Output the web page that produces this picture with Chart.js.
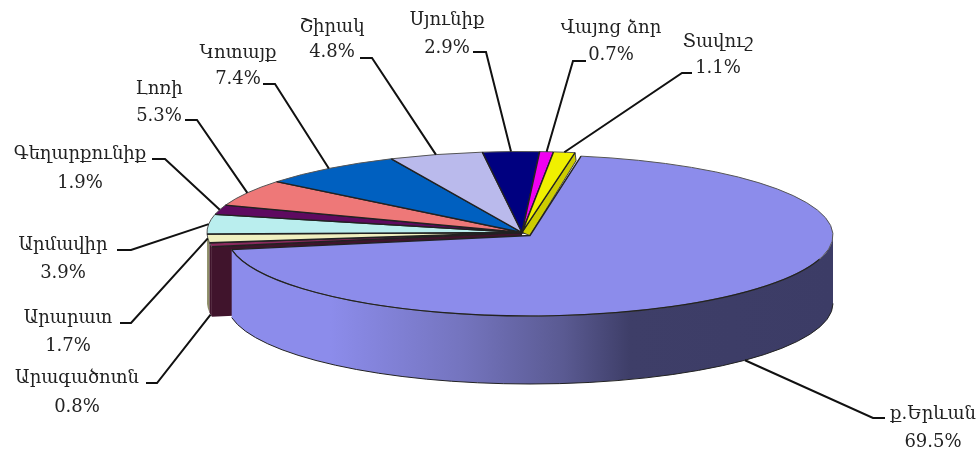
<!DOCTYPE html>
<html>
<head>
<meta charset="utf-8">
<style>
html, body { margin: 0; padding: 0; background: #fff; }
canvas { display: block; filter: blur(0.4px); }
</style>
<script src="https://cdn.jsdelivr.net/npm/chart.js@4"></script>
</head>
<body>
<canvas id="chart" width="979" height="451"></canvas>
<script>
var regions = ['ք.Երևան', 'Արագածոտն', 'Արարատ', 'Արմավիր', 'Գեղարքունիք', 'Լոռի', 'Կոտայք', 'Շիրակ', 'Սյունիք', 'Վայոց ձոր', 'Տավուշ'];
var shares = [69.5, 0.8, 1.7, 3.9, 1.9, 5.3, 7.4, 4.8, 2.9, 0.7, 1.1];
var colors = ['#8C8CEB', '#8A2A5E', '#F0F0C0', '#BAEEEE', '#5E0A60', '#EE7878', '#0060C0', '#BABAEC', '#000080', '#F000F0', '#F0F000'];

// where each label sits: [name x, name y, value y, elbow x, elbow y, line start x]
var labelPos = [
    [933, 414, 442, 873, 418, 885],
    [77, 378, 407, 157, 383, 146],
    [68, 318, 346, 131, 323, 120],
    [63, 245, 273, 131, 250, 117],
    [80, 154, 183, 165, 159, 152],
    [159, 89, 116, 197, 120, 185],
    [238, 53, 79, 275, 84, 263],
    [332, 27, 52, 372, 58, 360],
    [447, 20, 48, 486, 52, 473],
    [611, 28, 55, 573, 61, 586],
    [718, 42, 68, 682, 73, 692]
];

// the big slice and the rest have slightly different ellipses in the original
var bigPie = { x: 530, y: 235.5, rx: 303, ry: 80.5, h: 68 };
var restPie = { x: 522, y: 232.5, rx: 315, ry: 81, h: 70 };

function pieFor(i) {
    return i === 0 ? bigPie : restPie;
}

function pointOn(p, angle) {
    return { x: p.x + p.rx * Math.cos(angle), y: p.y + p.ry * Math.sin(angle) };
}

function drawTop(ctx, arc, i) {
    var p = pieFor(i);
    var r = arc.outerRadius;
    ctx.save();
    ctx.translate(p.x, p.y);
    ctx.scale(p.rx / r, p.ry / r);
    ctx.translate(-arc.x, -arc.y);
    arc.draw(ctx);
    ctx.restore();

    ctx.beginPath();
    ctx.ellipse(p.x, p.y, p.rx, p.ry, 0, arc.startAngle, arc.endAngle);
    ctx.strokeStyle = '#555';
    ctx.lineWidth = 1;
    ctx.stroke();

    var a = pointOn(p, arc.startAngle);
    var b = pointOn(p, arc.endAngle);
    ctx.beginPath();
    ctx.moveTo(a.x, a.y);
    ctx.lineTo(p.x, p.y);
    ctx.lineTo(b.x, b.y);
    ctx.strokeStyle = '#222';
    ctx.lineWidth = 1.4;
    ctx.stroke();
}

function wallPath(ctx, p, a0, a1) {
    ctx.beginPath();
    ctx.ellipse(p.x, p.y + p.h, p.rx, p.ry, 0, a0, a1);
    ctx.ellipse(p.x, p.y, p.rx, p.ry, 0, a1, a0, true);
    ctx.closePath();
}

var pie3d = {
    id: 'pie3d',
    beforeDatasetDraw: function (chart) {
        var ctx = chart.ctx;
        var arcs = chart.getDatasetMeta(0).data;
        var big = arcs[0];

        // left rim and cut face of the slices behind the big one
        var edge = arcs[2];
        wallPath(ctx, restPie, edge.startAngle, edge.endAngle);
        ctx.fillStyle = '#8E8E68';
        ctx.fill();
        wallPath(ctx, restPie, arcs[1].startAngle, arcs[1].endAngle);
        ctx.fillStyle = '#40142C';
        ctx.fill();

        var o = pointOn(restPie, arcs[1].startAngle);
        ctx.beginPath();
        ctx.moveTo(restPie.x, restPie.y);
        ctx.lineTo(o.x, o.y);
        ctx.lineTo(o.x, o.y + restPie.h);
        ctx.lineTo(restPie.x, restPie.y + restPie.h);
        ctx.closePath();
        ctx.fillStyle = '#40142C';
        ctx.fill();

        // cut face of the last slice, right of the gap
        var t = pointOn(restPie, arcs[10].endAngle);
        ctx.beginPath();
        ctx.moveTo(restPie.x, restPie.y);
        ctx.lineTo(t.x, t.y);
        ctx.lineTo(t.x + 1, t.y + 8);
        ctx.lineTo(bigPie.x, bigPie.y);
        ctx.closePath();
        ctx.fillStyle = '#CCCC00';
        ctx.fill();
        ctx.strokeStyle = '#444';
        ctx.lineWidth = 1;
        ctx.stroke();

        for (var i = 1; i < arcs.length; i++) {
            drawTop(ctx, arcs[i], i);
        }

        // outer wall of the big slice
        wallPath(ctx, bigPie, 0, big.endAngle);
        var g = ctx.createLinearGradient(227, 0, 833, 0);
        g.addColorStop(0, '#8C8CEB');
        g.addColorStop(0.17, '#8C8CEB');
        g.addColorStop(0.39, '#7474BE');
        g.addColorStop(0.555, '#5A5A92');
        g.addColorStop(0.665, '#3E3E68');
        g.addColorStop(1, '#3C3C66');
        ctx.fillStyle = g;
        ctx.fill();
        ctx.beginPath();
        ctx.ellipse(bigPie.x, bigPie.y + bigPie.h, bigPie.rx, bigPie.ry, 0, 0, big.endAngle);
        ctx.strokeStyle = '#222';
        ctx.lineWidth = 1;
        ctx.stroke();

        drawTop(ctx, big, 0);

        // front seam of the big slice is darker than its far edge
        ctx.beginPath();
        ctx.ellipse(bigPie.x, bigPie.y, bigPie.rx, bigPie.ry, 0, 0.3, big.endAngle);
        ctx.strokeStyle = '#222';
        ctx.lineWidth = 1.2;
        ctx.stroke();
        return false;
    },
    afterDatasetsDraw: function (chart) {
        var ctx = chart.ctx;
        var arcs = chart.getDatasetMeta(0).data;
        ctx.textAlign = 'center';
        ctx.textBaseline = 'middle';
        ctx.font = '18px "DejaVu Serif"';
        for (var i = 0; i < regions.length; i++) {
            var pos = labelPos[i];
            var p = pieFor(i);
            var mid = (arcs[i].startAngle + arcs[i].endAngle) / 2;
            var end = pointOn(p, mid);
            // these two are pointed at the bottom of the wall
            if (i < 2) {
                end.y += p.h;
            }
            ctx.beginPath();
            ctx.moveTo(pos[5], pos[4]);
            ctx.lineTo(pos[3], pos[4]);
            ctx.lineTo(end.x, end.y);
            ctx.strokeStyle = '#111';
            ctx.lineWidth = 2;
            ctx.stroke();

            ctx.fillStyle = '#222';
            ctx.fillText(regions[i], pos[0], pos[1]);
            ctx.fillText(shares[i].toFixed(1) + '%', pos[0], pos[2]);
        }
    }
};

new Chart(document.getElementById('chart'), {
    type: 'pie',
    data: {
        labels: regions,
        datasets: [{
            data: shares,
            backgroundColor: colors,
            borderWidth: 0
        }]
    },
    options: {
        responsive: false,
        animation: false,
        rotation: 9.7,
        plugins: {
            legend: { display: false },
            tooltip: { enabled: false }
        }
    },
    plugins: [pie3d]
});
</script>
</body>
</html>
